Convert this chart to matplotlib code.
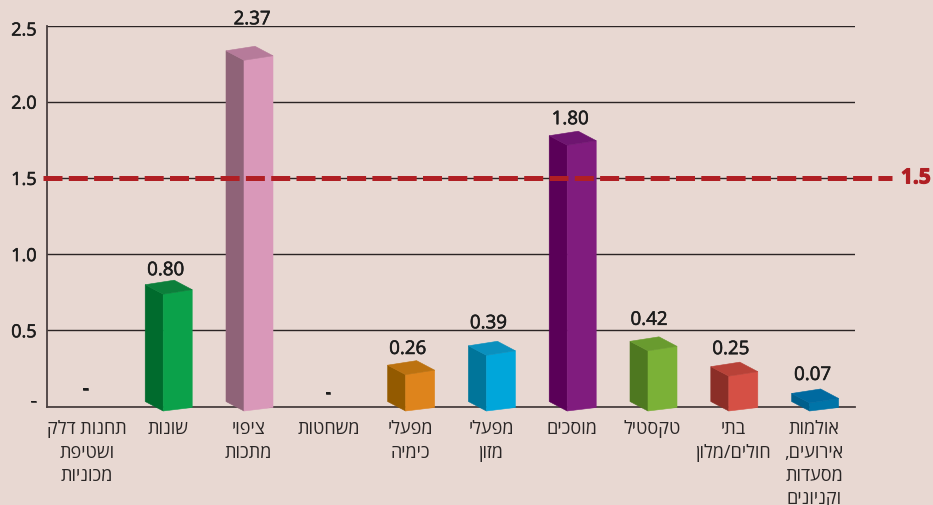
"""
bar chart with hand drawn 3d boxes, threshold at 1.5
"""
import matplotlib
matplotlib.use('Agg')
import matplotlib.pyplot as plt
import matplotlib.patheffects as pe
from matplotlib.patches import Polygon
from matplotlib.transforms import ScaledTranslation

plt.rcParams['font.family'] = ['Open Sans', 'Liberation Sans', 'DejaVu Sans']

CATEGORIES = ['תחנות דלק\nושטיפת\nמכוניות', 'שונות', 'ציפוי\nמתכות', 'משחטות',
              'מפעלי\nכימיה', 'מפעלי\nמזון', 'מוסכים', 'טקסטיל',
              'בתי\nחולים/מלון', 'אולמות\nאירועים,\nמסעדות\nוקניונים']
VALUES = [None, 0.80, 2.37, None, 0.26, 0.39, 1.80, 0.42, 0.25, 0.07]
THRESHOLD = 1.5
YTICKS = [0, 0.5, 1.0, 1.5, 2.0, 2.5]
YTICK_LABELS = ['-', '0.5', '1.0', '1.5', '2.0', '2.5']

FRONT = [None, '#0BA14A', '#D998B9', None, '#DE841C', '#00A6DA', '#801C7E', '#7BB137', '#D55045', '#0074A8']
SIDE = [None, '#006B2D', '#8F6378', None, '#935A00', '#00759A', '#5A0058', '#4E7820', '#8B2E27', '#005F8C']
TOP = [None, '#0C7F3B', '#B67B9A', None, '#BC7210', '#0A90BE', '#6E1570', '#699B2F', '#B84238', '#006AA0']
# gap between box top and value label, and its sideways shift, pixels
LABEL_GAP = [0, 10, 27, 0, 11.7, 18, 12, 17, 13, 14]
LABEL_DX = [0, -2.5, 3, 0, -3, -3, -2, -4, -3, -2]

BG = '#E8D8D2'
INK = '#1c1c1c'
W, H = 933, 506
LEFT, RIGHT, TOP_PX, BOTTOM_PX = 47, 855, 26.5, 407.5
PX_X = (RIGHT - LEFT) / 10.0
PX_Y = (BOTTOM_PX - TOP_PX) / 2.5
# regular weight is a bit too thin for the numbers and semibold too heavy
MEDIUM = [pe.withStroke(linewidth=0.4, foreground=INK)]


def rtl(text):
    # matplotlib has no bidi, so every line goes in visual order
    return '\n'.join(line[::-1] for line in text.split('\n'))


def draw_box(ax, i, value, front, side, top):
    def pt(dx, ypx):
        return (i + dx / PX_X, (BOTTOM_PX - ypx) / PX_Y)
    peak = 400.4 - 149 * value
    xl, xf, xr, xp = -23, -5, 24, 6
    side_pts = [pt(xl, peak + 4.5), pt(xf, peak + 14), pt(xf, 412), pt(xl, 402.5)]
    front_pts = [pt(xf, peak + 14), pt(xr, peak + 9.5), pt(xr, 408.5), pt(xf, 412)]
    top_pts = [pt(xl, peak + 4.5), pt(xp, peak), pt(xr, peak + 9.5), pt(xf, peak + 14)]
    for pts, color in ((side_pts, side), (front_pts, front), (top_pts, top)):
        ax.add_patch(Polygon(pts, closed=True, facecolor=color, edgecolor=color,
                             linewidth=0.4, zorder=3, clip_on=False))
    return peak


fig = plt.figure(figsize=(W / 100.0, H / 100.0), dpi=100, facecolor=BG)
ax = fig.add_axes([LEFT / W, 1 - BOTTOM_PX / H, (RIGHT - LEFT) / W, (BOTTOM_PX - TOP_PX) / H])
ax.set_facecolor(BG)
ax.set_xlim(-0.5, 9.5)
ax.set_ylim(0, 2.5)
ax.set_axisbelow(True)
ax.grid(axis='y', color='#2b2424', linewidth=1.0)
ax.grid(axis='x', visible=False)
for name in ('top', 'right'):
    ax.spines[name].set_visible(False)
for name in ('left', 'bottom'):
    ax.spines[name].set_color('#4a4040')
    ax.spines[name].set_linewidth(1.3)

ax.set_yticks(YTICKS)
ax.set_yticklabels(YTICK_LABELS, fontsize=13, color=INK, path_effects=MEDIUM)
ax.tick_params(axis='y', length=0, pad=7.5)
ax.tick_params(axis='x', length=0)
ax.set_xticks(range(len(CATEGORIES)))
ax.set_xticklabels([])
# end labels sit off their gridlines in the original
labels = ax.get_yticklabels()
labels[0].set_transform(labels[0].get_transform() + ScaledTranslation(0, 7 / 100.0, fig.dpi_scale_trans))
labels[-1].set_transform(labels[-1].get_transform() + ScaledTranslation(0, -3 / 100.0, fig.dpi_scale_trans))

for i, (cat, val) in enumerate(zip(CATEGORIES, VALUES)):
    ax.text(i - 0.5 / PX_X, -(420.5 - BOTTOM_PX) / PX_Y, rtl(cat), ha='center', va='top',
            fontsize=13, color='#2a2626', linespacing=1.36, clip_on=False)
    if val is None:
        continue
    peak = draw_box(ax, i, val, FRONT[i], SIDE[i], TOP[i])
    ax.text(i + LABEL_DX[i] / PX_X, (BOTTOM_PX - (peak - LABEL_GAP[i])) / PX_Y, '%.2f' % val,
            ha='center', va='center', fontsize=13.5, color=INK,
            clip_on=False, zorder=5, path_effects=MEDIUM)

# the two empty categories only carry a dash
ax.text(0 - 2 / PX_X, (BOTTOM_PX - 390) / PX_Y, '-', ha='center', va='center', fontsize=13,
        color=INK, path_effects=MEDIUM)
ax.text(3 - 2 / PX_X, (BOTTOM_PX - 394) / PX_Y, '-', ha='center', va='center', fontsize=13,
        color=INK, path_effects=MEDIUM)

# threshold runs past the axes on both sides
x0 = -0.5 - 4 / PX_X
x1 = 9.5 + 37 / PX_X
ax.plot([x0, x1], [THRESHOLD, THRESHOLD], color='#B01F24', linewidth=3.6, zorder=6,
        clip_on=False, linestyle=(0, (3.8, 1.26)), dash_capstyle='butt')
ax.text(9.5 + 46 / PX_X, THRESHOLD, '%.1f' % THRESHOLD, color='#B01F24', fontsize=15, fontweight='bold',
        ha='left', va='center', clip_on=False, zorder=6,
        path_effects=[pe.withStroke(linewidth=0.8, foreground='#B01F24')])

fig.savefig('out.png', dpi=100, facecolor=BG)
